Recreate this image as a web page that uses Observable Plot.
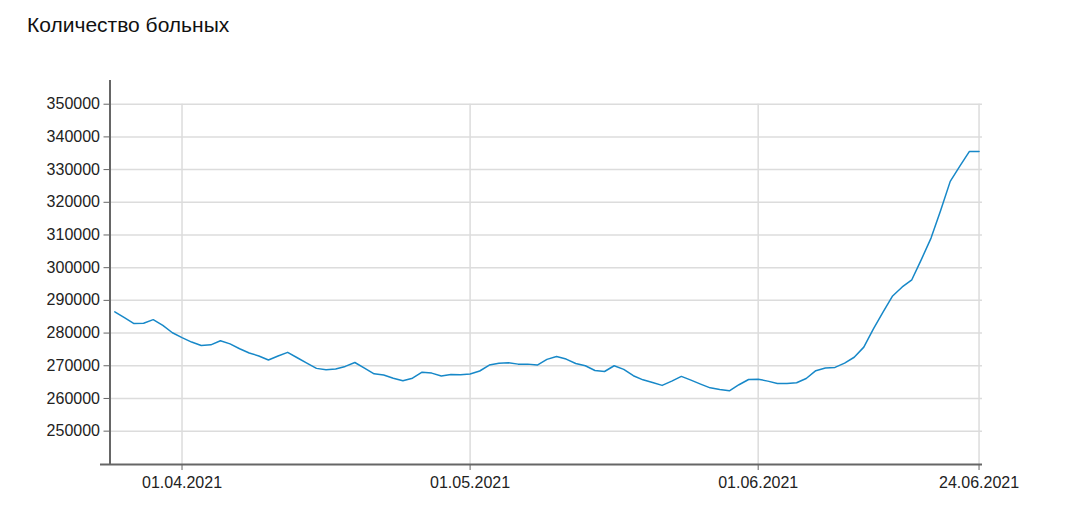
<!DOCTYPE html>
<html>
<head>
<meta charset="utf-8">
<script src="https://cdn.jsdelivr.net/npm/d3@7"></script>
<script src="https://cdn.jsdelivr.net/npm/@observablehq/plot@0.6"></script>
<style>
  html, body { margin: 0; padding: 0; background: #fff; }
  #wrap { position: relative; width: 1073px; height: 532px; overflow: hidden; }
  #title { position: absolute; left: 27px; top: 13px; font: 21px "Liberation Sans", Arial, sans-serif; color: #111; white-space: nowrap; }
  #chart { position: absolute; left: 0; top: 0; }
</style>
</head>
<body>
<div id="wrap">
  <div id="chart"></div>
  <div id="title">Количество больных</div>
</div>
<script>
// Daily values, 25.03.2021 … 24.06.2021 (points equally spaced)
const values = [
  286500, 284700, 282900, 283000, 284100, 282350, 280100, 278600, 277250, 276200,
  276400, 277650, 276700, 275200, 273900, 273000, 271750, 273000, 274100, 272450,
  270800, 269200, 268800, 269000, 269800, 271000, 269300, 267550, 267150, 266200,
  265400, 266200, 268050, 267750, 266850, 267350, 267250, 267500, 268400, 270200,
  270800, 270900, 270500, 270500, 270200, 271950, 272850, 272050, 270700, 270000,
  268550, 268250, 270000, 268900, 266950, 265700, 264900, 264000, 265300, 266750,
  265600, 264400, 263250, 262750, 262350, 264200, 265800, 265900, 265300, 264600,
  264600, 264800, 266100, 268500, 269300, 269500, 270800, 272600, 275700, 281300,
  286400, 291350, 294100, 296300, 302550, 309050, 317500, 326400, 331050, 335550,
  335550
];
const xTickIndex = [7, 37, 67, 90];
const xTickLabels = ["01.04.2021", "01.05.2021", "01.06.2021", "24.06.2021"];
const yTicks = [250000, 260000, 270000, 280000, 290000, 300000, 310000, 320000, 330000, 340000, 350000];

const data = values.map((v, i) => ({i, v}));
const xMin = -0.5, xMax = 90.36, yMin = 239800, yMax = 357250;
const labelOf = new Map(xTickIndex.map((t, k) => [t, xTickLabels[k]]));

const chart = Plot.plot({
  width: 1073,
  height: 532,
  marginLeft: 109.5,
  marginRight: 91,
  marginTop: 80,
  marginBottom: 68,
  style: {fontFamily: '"Liberation Sans", Arial, sans-serif', fontSize: "16px", color: "#222", background: "transparent"},
  x: {type: "linear", domain: [xMin, xMax]},
  y: {type: "linear", domain: [yMin, yMax]},
  marks: [
    Plot.ruleY(yTicks, {x1: xMin, x2: xMax, stroke: "#dcdcdc", strokeWidth: 1.5}),
    Plot.ruleX(xTickIndex, {y1: yTicks[yTicks.length - 1], y2: yMin, stroke: "#dcdcdc", strokeWidth: 1.5}),
    Plot.line(data, {x: "i", y: "v", stroke: "#1788c8", strokeWidth: 1.5}),
    Plot.ruleX([xMin], {y1: yMin, y2: yMax, stroke: "#666", strokeWidth: 2}),
    Plot.ruleY([yMin], {x1: -1.49, x2: xMax, stroke: "#666", strokeWidth: 2}),
    Plot.axisY(yTicks, {anchor: "left", tickSize: 6, tickPadding: 4, stroke: "#666", fill: "#222", tickFormat: d => String(d), label: null}),
    Plot.axisX(xTickIndex, {anchor: "bottom", tickSize: 6, tickPadding: 6, stroke: "#666", fill: "#222", tickFormat: d => labelOf.get(d), label: null})
  ]
});
document.getElementById("chart").appendChild(chart);
</script>
</body>
</html>
